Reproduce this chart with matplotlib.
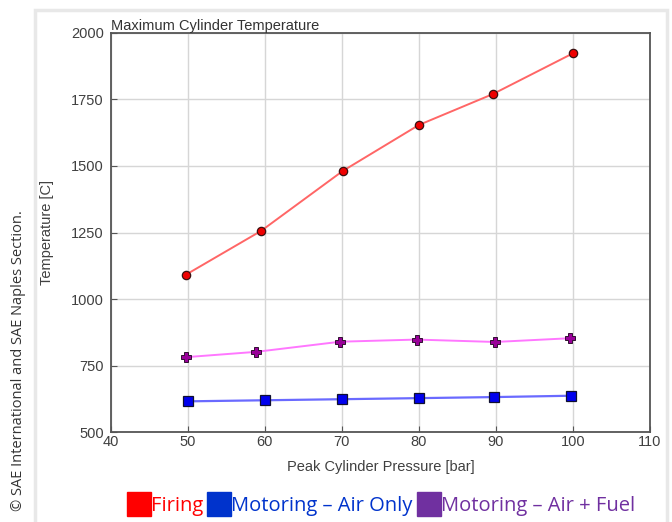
import matplotlib.pyplot as plt
from matplotlib.lines import Line2D
from matplotlib.patches import Rectangle

# values
x_firing = [49.7, 59.5, 70.1, 80.0, 89.6, 100.0]
t_firing = [1091, 1256, 1481, 1654, 1770, 1923]

x_air = [50.0, 60.0, 70.0, 80.0, 89.8, 99.7]
t_air = [616, 620, 624, 628, 632, 637]

x_air_fuel = [49.8, 58.9, 69.8, 79.7, 89.9, 99.6]
t_air_fuel = [782, 802, 840, 848, 839, 853]

x_ticks = [40, 50, 60, 70, 80, 90, 100, 110]
y_ticks = [500, 750, 1000, 1250, 1500, 1750, 2000]

legend_labels = ['Firing', 'Motoring \u2013 Air Only', 'Motoring \u2013 Air + Fuel']
legend_colors = ['#ff0000', '#0033cc', '#7030a0']


def main():
    plt.rcParams['font.family'] = ['Liberation Sans', 'DejaVu Sans']
    fig = plt.figure(figsize=(6.72, 5.22), dpi=100, facecolor='white')

    # white card with a faint shadow edge
    fig.patches.append(Rectangle((0.052, -0.02), 0.94, 1.0, transform=fig.transFigure,
                                 facecolor='white', edgecolor='#e8e8e8', linewidth=2.5,
                                 zorder=-10))

    ax = fig.add_axes([0.165, 0.172, 0.802, 0.765])

    ax.plot(x_firing, t_firing, color='#ff6666', linewidth=1.4, marker='o',
            markersize=6, markerfacecolor='#ee0000', markeredgecolor='#3a1010',
            markeredgewidth=0.9, zorder=3)
    ax.plot(x_air, t_air, color='#6a6aff', linewidth=1.6, marker='s',
            markersize=6.5, markerfacecolor='#0000ee', markeredgecolor='#101030',
            markeredgewidth=0.9, zorder=3)
    ax.plot(x_air_fuel, t_air_fuel, color='#ff77ff', linewidth=1.4, marker='P',
            markersize=6.5, markerfacecolor='#990099', markeredgecolor='#301030',
            markeredgewidth=0.7, zorder=3)

    ax.set_xlim(40, 110)
    ax.set_ylim(500, 2000)
    ax.set_xticks(x_ticks)
    ax.set_yticks(y_ticks)
    ax.grid(True, color='#d6d6d6', linewidth=1.0)
    ax.set_axisbelow(True)
    for s in ax.spines.values():
        s.set_color('#555555')
        s.set_linewidth(1.3)
    ax.tick_params(direction='in', length=4, color='#555555', labelcolor='#404040',
                   labelsize=10.5)
    ax.tick_params(axis='y', pad=5)
    ax.tick_params(axis='x', pad=2)

    ax.set_title('Maximum Cylinder Temperature', loc='left', fontsize=10.5,
                 color='#333333', pad=2)
    ax.set_xlabel('Peak Cylinder Pressure [bar]', fontsize=10.5, color='#404040',
                  labelpad=8)
    ax.set_ylabel('Temperature [C]', fontsize=10.5, color='#404040', labelpad=12)

    handles = [Line2D([], [], linestyle='none', marker='s', markersize=17,
                      markerfacecolor=c, markeredgecolor=c) for c in legend_colors]
    fig.legend(handles, legend_labels, loc='center', bbox_to_anchor=(0.568, 0.031),
               ncol=3, frameon=False, labelcolor=legend_colors, handletextpad=0.1,
               columnspacing=0.3, handlelength=1.0,
               prop={'family': 'Open Sans', 'size': 14.5})

    fig.text(0.027, 0.31, '\u00a9 SAE International and SAE Naples Section.',
             rotation=90, ha='center', va='center', fontsize=10.5,
             color='#333333', family='Open Sans')

    fig.savefig('out.png', dpi=100, facecolor=fig.get_facecolor())


if __name__ == '__main__':
    main()
